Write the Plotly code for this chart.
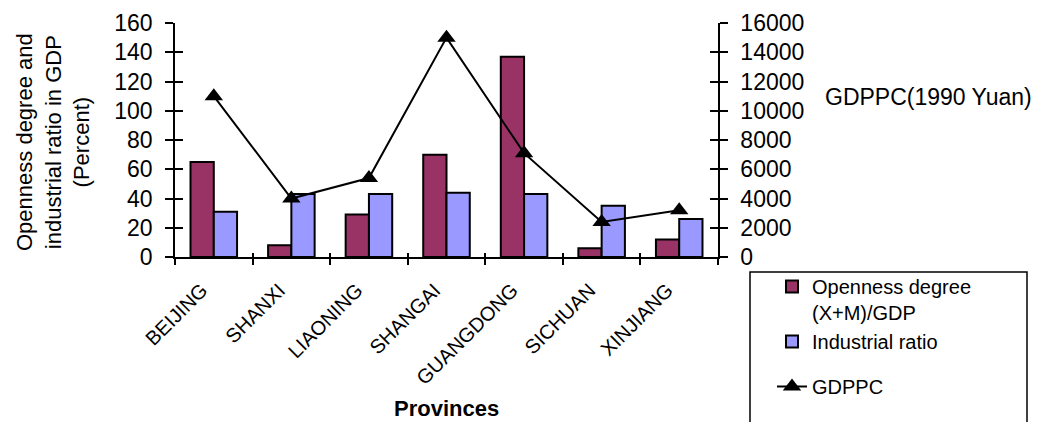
import plotly.graph_objects as go

provinces = ["BEIJING", "SHANXI", "LIAONING", "SHANGAI", "GUANGDONG", "SICHUAN", "XINJIANG"]
openness = [65, 8, 29, 70, 137, 6, 12]
industrial = [31, 43, 43, 44, 43, 35, 26]
gdppc = [11000, 4000, 5400, 15000, 7100, 2400, 3200]

FONT = "Liberation Sans, Arial, sans-serif"
OFF = 8  # page body margin
W, H = 1052, 422
# plot area in screen pixels: x 175..718, y 23..257
L, T = 175 - OFF, 23 - OFF
R = W - (718 - OFF)
B = H - (257 - OFF)
PW = W - L - R
PH = H - T - B

def px_x(x):
    return (x - OFF - L) / PW

def px_y(y):
    return (H - B - (y - OFF)) / PH

fig = go.Figure()
fig.add_trace(go.Bar(x=provinces, y=openness, name="Openness degree<br>(X+M)/GDP",
                     marker=dict(color="#993366", line=dict(color="black", width=2)),
                     legendgroup="a"))
fig.add_trace(go.Bar(x=provinces, y=industrial, name="Industrial ratio",
                     marker=dict(color="#9999FF", line=dict(color="black", width=2)),
                     legendgroup="a"))
fig.add_trace(go.Scatter(x=provinces, y=gdppc, name="GDPPC", yaxis="y2", mode="lines+markers",
                         line=dict(color="black", width=2),
                         marker=dict(symbol="triangle-up", size=16, color="black"),
                         legendgroup="b"))

tickfont = dict(family=FONT, size=23, color="black")

fig.update_layout(
    width=W, height=H,
    margin=dict(l=L, r=R, t=T, b=B, autoexpand=False),
    paper_bgcolor="white", plot_bgcolor="white",
    barmode="group", bargap=0.4, bargroupgap=0,
    font=dict(family=FONT, color="black"),
    xaxis=dict(type="category", showline=True, linecolor="black", linewidth=1.5,
               ticks="outside", ticklen=6, tickcolor="black", tickwidth=1.5, tickson="boundaries",
               tickangle=-45, tickfont=dict(family=FONT, size=20, color="black"),
               ticklabelshift=-12, ticklabelstandoff=12,
               showgrid=False, zeroline=False, automargin=False),
    yaxis=dict(range=[0, 160], dtick=20, showline=True, linecolor="black", linewidth=1.5,
               ticks="outside", ticklen=8, tickcolor="black", tickwidth=1.5,
               tickfont=tickfont, ticklabelstandoff=8, showgrid=False, zeroline=False,
               automargin=False),
    yaxis2=dict(range=[0, 16000], dtick=2000, tickformat="d", overlaying="y", side="right", anchor="x",
                showline=True, linecolor="black", linewidth=1.5,
                ticks="outside", ticklen=8, tickcolor="black", tickwidth=1.5,
                tickfont=tickfont, ticklabelstandoff=8, showgrid=False, zeroline=False,
                automargin=False),
    yaxis3=dict(range=[0, 160], dtick=20, overlaying="y", side="left", anchor="x",
                ticks="inside", ticklen=8, tickcolor="black", tickwidth=1.5,
                showticklabels=False, showline=False, showgrid=False, zeroline=False),
    yaxis4=dict(range=[0, 16000], dtick=2000, overlaying="y", side="right", anchor="x",
                ticks="inside", ticklen=8, tickcolor="black", tickwidth=1.5,
                showticklabels=False, showline=False, showgrid=False, zeroline=False),
    xaxis2=dict(range=[-0.5, 6.5], tickvals=[-0.5, 0.5, 1.5, 2.5, 3.5, 4.5, 5.5, 6.5],
                overlaying="x", side="bottom", anchor="y",
                ticks="inside", ticklen=4, tickcolor="black", tickwidth=1.5,
                showticklabels=False, showline=False, showgrid=False, zeroline=False),
    legend=dict(x=px_x(772), y=px_y(267), xanchor="left", yanchor="top",
                font=dict(family=FONT, size=20, color="black"),
                valign="top", traceorder="grouped", tracegroupgap=16,
                bgcolor="rgba(0,0,0,0)", borderwidth=0),
    showlegend=True,
)

# invisible traces to make overlay axes render
fig.add_trace(go.Scatter(x=[None], y=[None], yaxis="y3", showlegend=False, hoverinfo="skip"))
fig.add_trace(go.Scatter(x=[None], y=[None], yaxis="y4", showlegend=False, hoverinfo="skip"))
fig.add_trace(go.Scatter(x=[None], y=[None], xaxis="x2", showlegend=False, hoverinfo="skip"))

fig.add_shape(type="rect", xref="paper", yref="paper",
              x0=px_x(750), x1=px_x(1027), y0=px_y(440), y1=px_y(272),
              line=dict(color="black", width=1.5), fillcolor="rgba(0,0,0,0)")

fig.add_annotation(text="Openness degree and<br>industrial ratio in GDP<br>(Percent)",
                   xref="paper", yref="paper", x=px_x(53), y=px_y(142),
                   xanchor="center", yanchor="middle", textangle=-90, showarrow=False,
                   font=dict(family=FONT, size=22, color="black"))
fig.add_annotation(text="GDPPC(1990 Yuan)", xref="paper", yref="paper",
                   x=px_x(823), y=px_y(97), xanchor="left", yanchor="middle", showarrow=False,
                   font=dict(family=FONT, size=23, color="black"))
fig.add_annotation(text="<b>Provinces</b>", xref="paper", yref="paper",
                   x=0.5, y=px_y(408), xanchor="center", yanchor="middle", showarrow=False,
                   font=dict(family=FONT, size=22, color="black"))

fig.write_html("out.html")
